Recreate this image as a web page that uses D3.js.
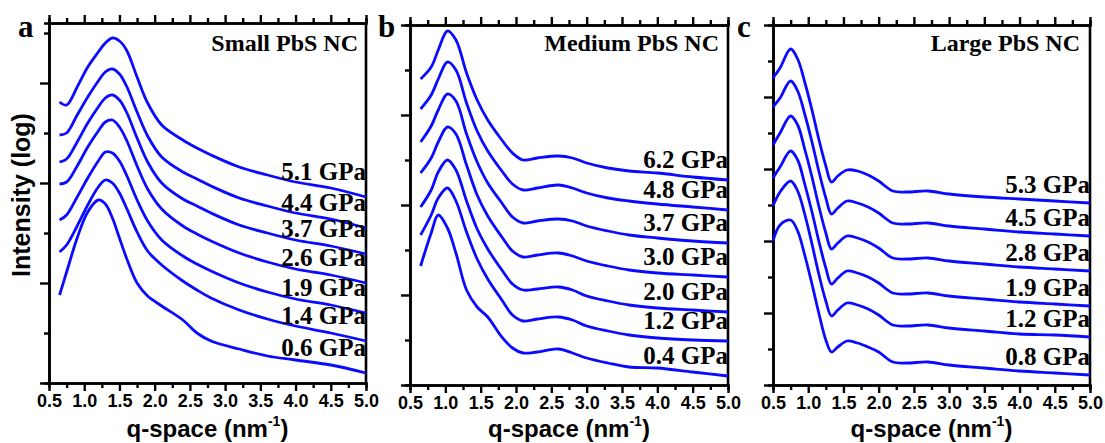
<!DOCTYPE html>
<html>
<head>
<meta charset="utf-8">
<script src="https://cdn.jsdelivr.net/npm/d3@7"></script>
<style>
  body { margin: 0; background: #fff; }
</style>
</head>
<body>
<div id="chart"></div>
<script>
// ---- data (log intensity, arbitrary units, curves offset for clarity) ----
let qSmall = [0.65, 0.75, 0.9, 1.05, 1.2, 1.3, 1.4, 1.5, 1.6, 1.75, 1.9, 2.1, 2.4, 2.6, 2.8, 3.2, 3.6, 4.0, 4.5, 5.0];
let smallLabels = ["5.1 GPa", "4.4 GPa", "3.7 GPa", "2.6 GPa", "1.9 GPa", "1.4 GPa", "0.6 GPa"];
let smallCurves = [
  [281, 278, 296, 316, 331, 340, 345, 342, 333, 306, 280, 258, 243, 235, 228, 216, 208, 201, 195, 186],
  [248, 250, 268, 286, 302, 311, 314, 309, 297, 271, 247, 226, 211, 204, 197, 185, 177, 170, 164, 155],
  [221, 224, 241, 260, 276, 285, 288, 283, 271, 245, 221, 200, 184, 177, 170, 158, 150, 143, 137, 129],
  [199, 201, 217, 236, 252, 261, 263, 256, 243, 217, 194, 174, 157, 149, 142, 130, 121, 114, 108, 100],
  [163, 168, 186, 205, 222, 231, 230, 222, 208, 183, 162, 143, 127, 119, 112, 100, 91, 84, 78, 70],
  [131, 138, 157, 178, 196, 203, 200, 190, 175, 151, 132, 118, 102, 93, 85, 73, 64, 57, 50, 42],
  [88, 111, 145, 171, 183, 179, 165, 145, 125, 100, 87, 77, 63, 50, 42, 34, 27, 23, 18, 10]
];

let qMedium = [0.65, 0.8, 0.9, 1.03, 1.15, 1.3, 1.45, 1.6, 1.8, 1.95, 2.1, 2.3, 2.6, 2.8, 3.0, 3.3, 3.6, 4.0, 4.5, 5.0];
let mediumLabels = ["6.2 GPa", "4.8 GPa", "3.7 GPa", "3.0 GPa", "2.0 GPa", "1.2 GPa", "0.4 GPa"];
let mediumCurves = [
  [306, 318, 335, 354, 345, 312, 285, 265, 245, 232, 225, 227, 229, 227, 222, 217, 214, 212, 208, 205],
  [276, 290, 306, 323, 315, 282, 254, 234, 214, 201, 195, 197, 200, 197, 192, 187, 184, 181, 178, 175],
  [243, 259, 275, 291, 284, 251, 223, 202, 182, 168, 162, 164, 166, 164, 159, 154, 150, 147, 144, 142],
  [212, 227, 243, 258, 251, 220, 190, 169, 148, 134, 128, 130, 132, 129, 124, 119, 115, 112, 110, 108],
  [178, 195, 213, 225, 215, 184, 156, 136, 115, 101, 95, 96, 98, 95, 89, 84, 80, 77, 75, 73],
  [150, 170, 187, 197, 184, 153, 126, 106, 85, 70, 64, 66, 68, 65, 59, 54, 50, 47, 45, 44],
  [119, 152, 170, 157, 132, 95, 78, 68, 48, 37, 32, 33, 36, 32, 27, 22, 18, 17, 13, 9]
];

let qLarge = [0.5, 0.6, 0.75, 0.85, 0.95, 1.05, 1.15, 1.25, 1.33, 1.42, 1.55, 1.7, 1.85, 2.0, 2.2, 2.4, 2.7, 3.0, 3.5, 4.0, 4.5, 5.0];
let largeLabels = ["5.3 GPa", "4.5 GPa", "2.8 GPa", "1.9 GPa", "1.2 GPa", "0.8 GPa"];
let largeCurves = [
  [307, 317, 336, 326, 303, 276, 246, 219, 203, 209, 215, 214, 210, 204, 194, 193, 194, 191, 188, 186, 184, 182],
  [278, 287, 304, 294, 271, 244, 214, 187, 171, 177, 184, 182, 178, 172, 162, 161, 162, 159, 156, 153, 151, 149],
  [240, 252, 269, 260, 236, 209, 179, 152, 136, 142, 149, 147, 143, 137, 127, 126, 127, 124, 121, 118, 116, 114],
  [207, 218, 234, 225, 201, 174, 144, 117, 101, 107, 114, 112, 108, 102, 92, 91, 92, 89, 86, 83, 81, 79],
  [179, 193, 204, 194, 171, 142, 111, 84, 69, 75, 82, 80, 76, 70, 60, 59, 60, 57, 54, 51, 50, 48],
  [144, 160, 165, 154, 130, 102, 72, 45, 33, 38, 44, 42, 38, 33, 23, 22, 23, 20, 17, 14, 12, 10]
];

let qMajorTicks = [0.5, 1.0, 1.5, 2.0, 2.5, 3.0, 3.5, 4.0, 4.5, 5.0];
let qMinorTicks = [0.75, 1.25, 1.75, 2.25, 2.75, 3.25, 3.75, 4.25, 4.75];

// ---- layout ----
let width = 1105, height = 443;
let lineColor = "#0a0aff";

let panels = [
  {letter: "a", title: "Small PbS NC",  q: qSmall,  curves: smallCurves,  labels: smallLabels,
   left: 49,  right: 366,  top: 23, bottom: 383, yStep: 50, labelLift: 17, letterX: 18,  titleX: 358},
  {letter: "b", title: "Medium PbS NC", q: qMedium, curves: mediumCurves, labels: mediumLabels,
   left: 410, right: 728,  top: 25, bottom: 385, yStep: 45, labelLift: 12, letterX: 378, titleX: 719},
  {letter: "c", title: "Large PbS NC",  q: qLarge,  curves: largeCurves,  labels: largeLabels,
   left: 773, right: 1090, top: 25, bottom: 385, yStep: 36, labelLift: 10, letterX: 737, titleX: 1080}
];

let svg =
  d3.select("#chart")
    .append("svg")
      .attr("width", width)
      .attr("height", height);

panels.forEach(drawPanel);

// y title (shared, left of panel a)
svg.append("text")
    .attr("transform", "translate(30,195) rotate(-90)")
    .attr("text-anchor", "middle")
    .style("font-family", "'Liberation Sans', Arial, sans-serif")
    .style("font-weight", "bold")
    .style("font-size", "25px")
    .text("Intensity (log)");

function drawPanel(p) {
  let x = d3.scaleLinear().domain([0.5, 5.0]).range([p.left, p.right]);
  let y = d3.scaleLinear().domain([0, 360]).range([p.bottom, p.top]);

  let yMajor = d3.range(0, 361, p.yStep * 2);
  let yMinor = d3.range(p.yStep, 360, p.yStep * 2);

  let g = svg.append("g");

  // bottom axis with labels
  g.append("g")
      .attr("transform", translate(0, p.bottom))
      .call(d3.axisBottom(x).tickValues(qMajorTicks).tickSize(8).tickSizeOuter(0)
              .tickFormat(d3.format(".1f")))
      .call(styleAxis)
    .selectAll("text")
      .attr("y", 11)
      .style("font-family", "'Liberation Sans', Arial, sans-serif")
      .style("font-weight", "bold")
      .style("font-size", "18px");
  g.append("g")
      .attr("transform", translate(0, p.bottom))
      .call(d3.axisBottom(x).tickValues(qMinorTicks).tickSize(5).tickFormat(""))
      .call(styleAxis);

  // top axis, ticks only
  g.append("g")
      .attr("transform", translate(0, p.top))
      .call(d3.axisTop(x).tickValues(qMajorTicks).tickSize(8).tickSizeOuter(0).tickFormat(""))
      .call(styleAxis);
  g.append("g")
      .attr("transform", translate(0, p.top))
      .call(d3.axisTop(x).tickValues(qMinorTicks).tickSize(5).tickFormat(""))
      .call(styleAxis);

  // left axis, ticks only
  g.append("g")
      .attr("transform", translate(p.left, 0))
      .call(d3.axisLeft(y).tickValues(yMajor).tickSize(9).tickSizeOuter(0).tickFormat(""))
      .call(styleAxis);
  g.append("g")
      .attr("transform", translate(p.left, 0))
      .call(d3.axisLeft(y).tickValues(yMinor).tickSize(5).tickFormat(""))
      .call(styleAxis);

  // right frame line
  g.append("line")
      .attr("x1", p.right).attr("x2", p.right)
      .attr("y1", p.top).attr("y2", p.bottom)
      .attr("stroke", "#000")
      .attr("stroke-width", 2.6);

  let line = d3.line()
      .x(function(d) { return x(d[0]); })
      .y(function(d) { return y(d[1]); })
      .curve(d3.curveCatmullRom.alpha(0.5));

  p.curves.forEach(function(vals, i) {
    let pts = vals.map(function(v, j) { return [p.q[j], v]; });
    g.append("path")
        .attr("d", line(pts))
        .attr("fill", "none")
        .attr("stroke", lineColor)
        .attr("stroke-width", 2.8)
        .attr("stroke-linejoin", "round");

    g.append("text")
        .attr("x", p.right)
        .attr("y", y(vals[vals.length - 1]) - p.labelLift)
        .attr("text-anchor", "end")
        .style("font-family", "'Liberation Serif', 'Times New Roman', serif")
        .style("font-weight", "bold")
        .style("font-size", "25px")
        .text(p.labels[i]);
  });

  // panel title
  g.append("text")
      .attr("x", p.titleX)
      .attr("y", 51)
      .attr("text-anchor", "end")
      .style("font-family", "'Liberation Serif', 'Times New Roman', serif")
      .style("font-weight", "bold")
      .style("font-size", "24px")
      .text(p.title);

  // panel letter
  svg.append("text")
      .attr("x", p.letterX)
      .attr("y", 37)
      .style("font-family", "'Liberation Serif', 'Times New Roman', serif")
      .style("font-weight", "bold")
      .style("font-size", "31px")
      .text(p.letter);

  // x title
  let xt = svg.append("text")
      .attr("x", (p.left + p.right) / 2)
      .attr("y", 437)
      .attr("text-anchor", "middle")
      .style("font-family", "'Liberation Sans', Arial, sans-serif")
      .style("font-weight", "bold")
      .style("font-size", "24px");
  xt.append("tspan").text("q-space (nm");
  xt.append("tspan").attr("dy", -11).style("font-size", "14px").text("-1");
  xt.append("tspan").attr("dy", 11).text(")");
}

function styleAxis(sel) {
  sel.select(".domain").attr("stroke", "#000").attr("stroke-width", 2.6);
  sel.selectAll(".tick line").attr("stroke", "#000").attr("stroke-width", 2.4);
}

function translate(x, y=0) {
  return "translate({x}, {y})"
          .replace("{x}", x)
          .replace("{y}", y);
}
</script>
</body>
</html>
